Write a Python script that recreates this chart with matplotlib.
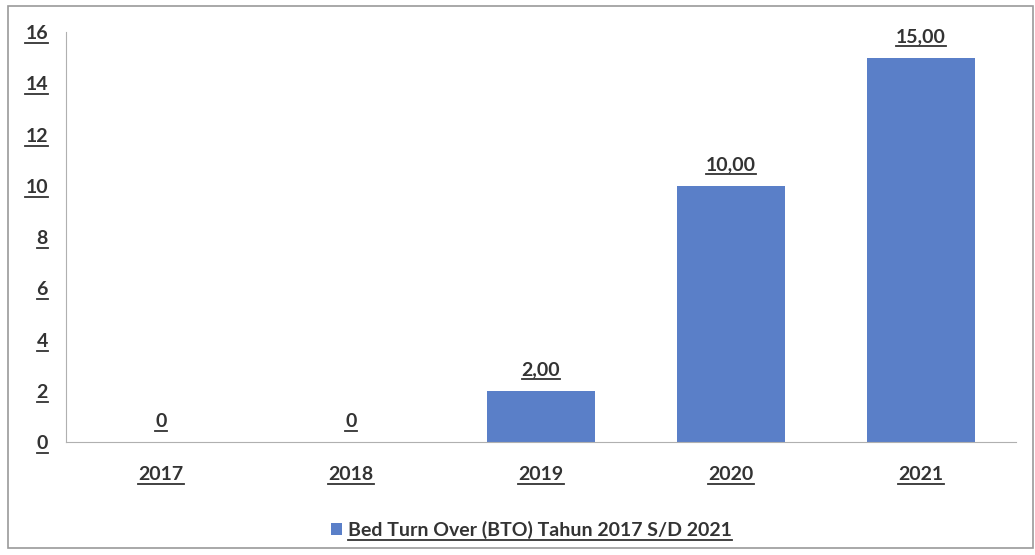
import numpy as np
import matplotlib.pyplot as plt
from matplotlib.patches import Rectangle
from matplotlib.lines import Line2D

years = ['2017', '2018', '2019', '2020', '2021']
bto = [0, 0, 2, 10, 15]
value_labels = ['0', '0', '2,00', '10,00', '15,00']
y_ticks = [0, 2, 4, 6, 8, 10, 12, 14, 16]
legend_label = 'Bed Turn Over (BTO) Tahun 2017 S/D 2021'

plt.rcParams['font.family'] = ['Lato', 'DejaVu Sans']
plt.rcParams['font.weight'] = 'bold'

txt_color = '#333333'
bar_color = '#5a7fc8'
fs = 14

fig = plt.figure(figsize=(10.35, 5.55), dpi=100)
fig.patches.append(Rectangle((0.008, 0.012), 0.99, 0.978, transform=fig.transFigure,
                             fill=False, edgecolor='#9a9a9a', linewidth=1.2))
ax = fig.add_axes([0.0638, 0.2036, 0.9178, 0.7387])

x = np.arange(len(years))
ax.bar(x, bto, width=0.57, color=bar_color, label=legend_label)

texts = []
for xi, v, lab in zip(x, bto, value_labels):
    t = ax.annotate(lab, (xi, v), xytext=(0, 9), textcoords='offset points',
                    ha='center', va='bottom', fontsize=fs, color=txt_color,
                    fontweight='bold')
    texts.append(t)

ax.set_xlim(-0.5, len(years) - 0.5)
ax.set_ylim(0, 16)
ax.set_yticks(y_ticks)
ax.set_xticks(x)
ax.set_xticklabels(years)
ax.tick_params(axis='y', length=0, pad=13, labelsize=fs, labelcolor=txt_color)
ax.tick_params(axis='x', length=0, pad=17, labelsize=fs, labelcolor=txt_color)

for s in ['top', 'right']:
    ax.spines[s].set_visible(False)
ax.spines['left'].set_color('#b0b0b0')
ax.spines['bottom'].set_color('#b0b0b0')

leg = ax.legend(loc='upper center', bbox_to_anchor=(0.49, -0.15), frameon=False,
                fontsize=fs, handlelength=0.6, handleheight=0.6, handletextpad=0.3,
                labelcolor=txt_color)

# underline every text, as in the original chart
fig.canvas.draw()
r = fig.canvas.get_renderer()
all_texts = texts + ax.get_xticklabels() + ax.get_yticklabels() + leg.get_texts()
for t in all_texts:
    bb = t.get_window_extent(r)
    y0 = bb.y0 - 1
    fig.add_artist(Line2D([bb.x0, bb.x1], [y0, y0], transform=None,
                          color=txt_color, linewidth=1.3))

plt.savefig('out.png', dpi=100)
